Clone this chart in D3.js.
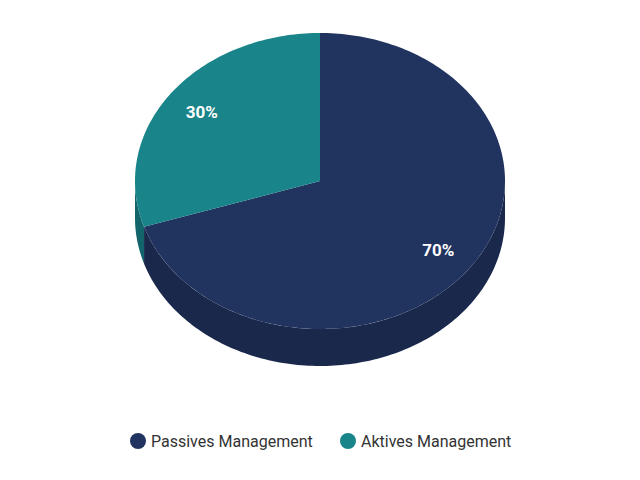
<!DOCTYPE html>
<html><head><meta charset="utf-8">
<script src="https://cdn.jsdelivr.net/npm/d3@7"></script>
<style>body{margin:0;background:#fff}</style>
</head><body><svg id="chart" width="640" height="480"></svg>
<script>
var categories = ['Passives Management', 'Aktives Management'];
var values = [70, 30];
var topColors = ['#21335f', '#198489'];
var sideColors = ['#1a284c', '#12666b'];

var cx = 320, cy = 181, rx = 185, ry = 148, depth = 37;
var svg = d3.select('#chart');

var arcs = d3.pie().sort(null)(values);

function pt(a, dy) {
  return [cx + rx * Math.sin(a), cy - ry * Math.cos(a) + (dy || 0)];
}
function samples(a0, a1) {
  var n = Math.max(2, Math.ceil(Math.abs(a1 - a0) / 0.02));
  return d3.range(n + 1).map(function (i) { return a0 + (a1 - a0) * i / n; });
}
var line = d3.line();

// side walls, only the front half (angle 90..270 deg)
arcs.forEach(function (d, i) {
  var a0 = Math.max(d.startAngle, Math.PI / 2);
  var a1 = Math.min(d.endAngle, 3 * Math.PI / 2);
  if (a1 <= a0) return;
  var top = samples(a0, a1).map(function (a) { return pt(a); });
  var bot = samples(a1, a0).map(function (a) { return pt(a, depth); });
  svg.append('path')
    .attr('d', line(top.concat(bot)) + 'Z')
    .attr('fill', sideColors[i]);
});

// top faces
arcs.forEach(function (d, i) {
  var pts = [[cx, cy]].concat(samples(d.startAngle, d.endAngle).map(function (a) { return pt(a); }));
  svg.append('path')
    .attr('d', line(pts) + 'Z')
    .attr('fill', topColors[i]);
});

// labels
arcs.forEach(function (d, i) {
  var m = (d.startAngle + d.endAngle) / 2;
  svg.append('text')
    .attr('x', cx + rx * 0.79 * Math.sin(m))
    .attr('y', cy - ry * 0.79 * Math.cos(m))
    .attr('text-anchor', 'middle')
    .attr('dominant-baseline', 'central')
    .attr('fill', '#fff')
    .attr('font-family', 'Roboto, Arial, sans-serif')
    .attr('font-size', 17)
    .attr('font-weight', 'bold')
    .text(values[i] + '%');
});

// legend
var legendX = [138, 348];
categories.forEach(function (c, i) {
  var g = svg.append('g').attr('transform', 'translate(' + legendX[i] + ',441)');
  g.append('circle').attr('r', 8).attr('fill', topColors[i]);
  g.append('text').attr('x', 13).attr('dominant-baseline', 'central')
    .attr('font-family', 'Roboto, Arial, sans-serif').attr('font-size', 16)
    .attr('fill', '#333').text(c);
});
</script></body></html>
